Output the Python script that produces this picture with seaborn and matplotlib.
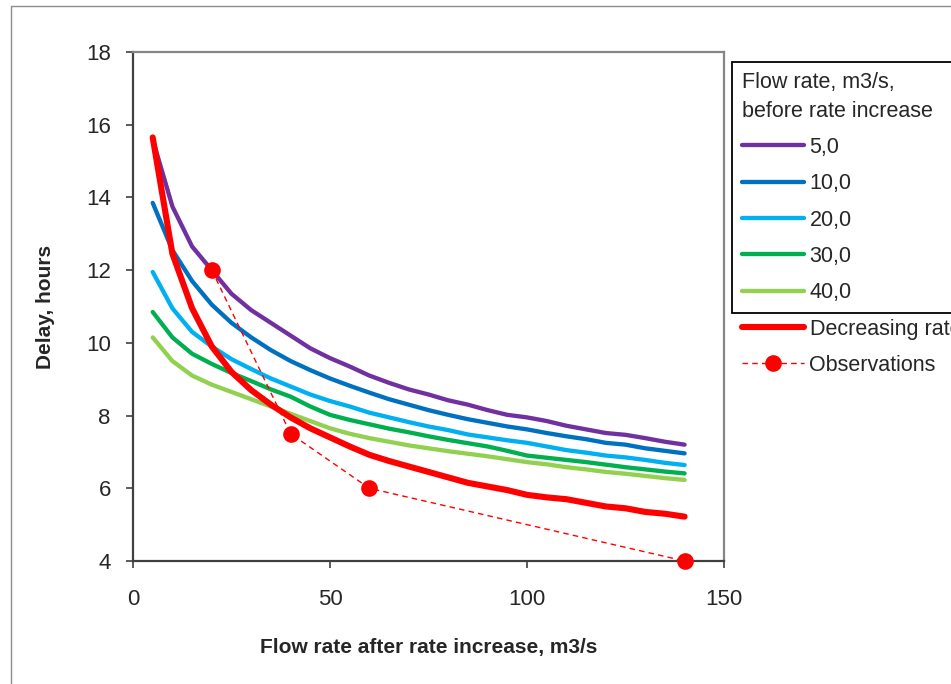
import matplotlib
matplotlib.use("Agg")
import matplotlib.pyplot as plt
from matplotlib.lines import Line2D
import seaborn as sns

flow_after = [5, 10, 15, 20, 25, 30, 35, 40, 45, 50, 55, 60, 65, 70,
              75, 80, 85, 90, 95, 100, 105, 110, 115, 120, 125, 130, 135, 140]

delay_5 = [15.6, 13.75, 12.65, 12.0, 11.35, 10.9, 10.55, 10.2, 9.85, 9.58, 9.35, 9.1, 8.9, 8.72,
           8.58, 8.42, 8.3, 8.15, 8.02, 7.95, 7.85, 7.72, 7.62, 7.52, 7.47, 7.38, 7.28, 7.2]
delay_10 = [13.85, 12.55, 11.7, 11.05, 10.55, 10.15, 9.8, 9.5, 9.25, 9.02, 8.82, 8.63, 8.45, 8.3,
            8.15, 8.02, 7.9, 7.8, 7.7, 7.62, 7.52, 7.43, 7.35, 7.25, 7.2, 7.1, 7.03, 6.96]
delay_20 = [11.95, 10.95, 10.3, 9.9, 9.55, 9.28, 9.02, 8.8, 8.58, 8.4, 8.25, 8.08, 7.95, 7.82,
            7.7, 7.6, 7.48, 7.4, 7.32, 7.25, 7.15, 7.05, 6.98, 6.9, 6.85, 6.78, 6.7, 6.64]
delay_30 = [10.85, 10.15, 9.7, 9.42, 9.17, 8.95, 8.72, 8.52, 8.25, 8.02, 7.88, 7.76, 7.64, 7.54,
            7.43, 7.33, 7.24, 7.15, 7.03, 6.9, 6.84, 6.78, 6.72, 6.65, 6.58, 6.52, 6.46, 6.41]
delay_40 = [10.15, 9.5, 9.1, 8.85, 8.65, 8.45, 8.25, 8.05, 7.85, 7.65, 7.5, 7.38, 7.28, 7.18,
            7.1, 7.02, 6.95, 6.88, 6.8, 6.72, 6.66, 6.58, 6.52, 6.45, 6.4, 6.34, 6.28, 6.23]
delay_decreasing = [15.65, 12.45, 10.95, 9.9, 9.2, 8.7, 8.3, 7.95, 7.65, 7.4, 7.15, 6.92, 6.75, 6.6,
                    6.45, 6.3, 6.15, 6.05, 5.95, 5.82, 5.75, 5.7, 5.6, 5.5, 5.45, 5.35, 5.3, 5.22]

obs_flow = [20, 40, 60, 140]
obs_delay = [12.0, 7.5, 6.0, 4.0]

series_labels = ["5,0", "10,0", "20,0", "30,0", "40,0"]
series_colors = ["#7030A0", "#0070C0", "#00B0F0", "#00B050", "#92D050"]

sns.set_theme(style="white")
plt.rcParams["font.family"] = ["Liberation Sans", "DejaVu Sans"]

fig = plt.figure(figsize=(9.51, 6.84), dpi=100)
ax = fig.add_axes([133 / 951, 1 - 561 / 684, (724 - 133) / 951, (561 - 52) / 684])

for vals, lab, col in zip([delay_5, delay_10, delay_20, delay_30, delay_40], series_labels, series_colors):
    sns.lineplot(x=flow_after, y=vals, color=col, linewidth=3.1, label=lab, ax=ax)

sns.lineplot(x=flow_after, y=delay_decreasing, color="#FF0000", linewidth=4.4,
             label="Decreasing rate", ax=ax)
sns.lineplot(x=obs_flow, y=obs_delay, color="#FF0000", linewidth=1, dashes=False,
             marker="o", markersize=12, markeredgewidth=0, label="Observations",
             ax=ax, clip_on=False, zorder=5)
obs_line = ax.get_lines()[-1]
obs_line.set_linestyle((0, (4, 3)))

handles, labels = ax.get_legend_handles_labels()
ax.get_legend().remove()

ax.set_xlim(0, 150)
ax.set_ylim(4, 18)
ax.set_xticks([0, 50, 100, 150])
ax.set_yticks([4, 6, 8, 10, 12, 14, 16, 18])
ax.tick_params(axis="both", which="major", labelsize=16, length=5, width=1.2,
               color="#404040", direction="out", bottom=True, left=True)
ax.tick_params(axis="x", pad=15)
ax.tick_params(axis="y", pad=11)
for side in ["left", "bottom"]:
    ax.spines[side].set_color("#404040")
    ax.spines[side].set_linewidth(1.6)
for side in ["top", "right"]:
    ax.spines[side].set_color("#868686")
    ax.spines[side].set_linewidth(1.6)

label_font = ["Liberation Sans Narrow", "Liberation Sans", "DejaVu Sans"]
ax.set_xlabel("Flow rate after rate increase, m3/s", fontsize=15, fontweight="bold",
              family=label_font, labelpad=20)
ax.set_ylabel("Delay, hours", fontsize=15, fontweight="bold", family=label_font, labelpad=22)

leg_kw = dict(loc="upper left", bbox_transform=fig.transFigure, borderaxespad=0, fontsize=15.5,
              handlelength=2.9, handletextpad=0.25, labelspacing=0.71, borderpad=0.45)

leg1 = fig.legend(handles[:5], labels[:5], title="Flow rate, m3/s,\nbefore rate increase",
                  bbox_to_anchor=(732 / 951, 0, 0.4, 1 - 62 / 684), mode="expand",
                  title_fontsize=15.5, alignment="left", frameon=True, fancybox=False,
                  edgecolor="black", framealpha=1, **leg_kw)
leg1.get_frame().set_linewidth(1.3)
leg1.get_title().set_linespacing(1.5)

fig.legend(handles[5:], labels[5:], bbox_to_anchor=(732 / 951, 1 - 309 / 684),
           frameon=False, numpoints=1, **leg_kw)

fig.add_artist(Line2D([11 / 951, 11 / 951], [0, 1 - 6 / 684], transform=fig.transFigure,
                      color="#8c8c8c", linewidth=1))
fig.add_artist(Line2D([11 / 951, 1], [1 - 6 / 684, 1 - 6 / 684], transform=fig.transFigure,
                      color="#8c8c8c", linewidth=1))

fig.savefig("out.png", dpi=100)
